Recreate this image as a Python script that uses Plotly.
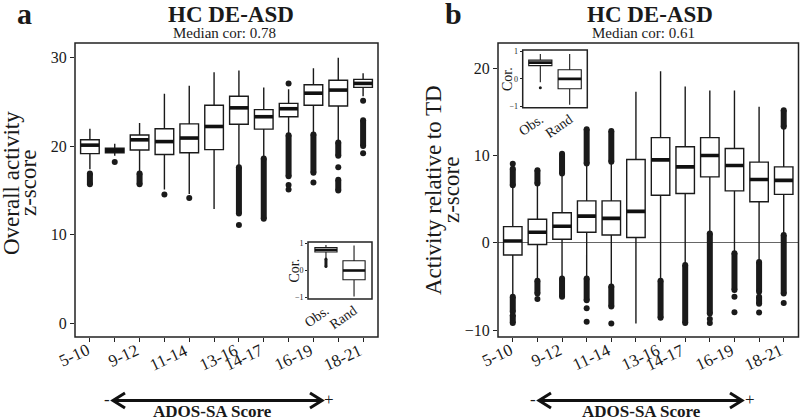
import plotly.graph_objects as go

# ---------------- data ----------------
tick_labels = ["5-10", "", "9-12", "", "11-14", "", "13-16", "14-17", "", "16-19", "", "18-21"]
positions = list(range(len(tick_labels)))

# Panel a: Overall activity z-score
a_lower = [17.4, 18.9, 17.2, 15.1, 14.6, 12.9, 17.7, 18.7, 21.3, 21.5, 20.6, 25.6]
a_q1 = [19.15, 19.25, 19.55, 19.05, 19.25, 19.6, 22.45, 21.9, 23.3, 24.6, 24.5, 26.6]
a_med = [20.1, 19.5, 20.7, 20.5, 20.9, 22.2, 24.3, 23.3, 24.2, 25.95, 26.3, 27.05]
a_q3 = [20.7, 19.75, 21.25, 21.95, 22.5, 24.6, 25.6, 24.1, 24.8, 26.9, 27.4, 27.5]
a_upper = [21.95, 20.25, 22.6, 25.9, 26.8, 28.3, 28.5, 26.6, 26.4, 28.75, 29.95, 28.2]
# dense outlier columns (category, low, high) and single outliers
a_run_cat = [0, 2, 6, 7, 8, 9, 10, 10, 11]
a_run_lo = [15.7, 15.7, 12.4, 11.8, 16.6, 17.0, 18.9, 15.0, 20.0]
a_run_hi = [16.9, 16.9, 17.6, 18.6, 21.2, 21.3, 20.4, 16.2, 22.9]
a_pt_cat = [1, 3, 4, 6, 8, 8, 8, 9, 10, 11, 11]
a_pt_val = [18.2, 14.55, 14.15, 11.1, 15.6, 15.1, 27.05, 15.9, 17.6, 25.1, 19.2]

# Panel b: Activity relative to TD z-score
b_lower = [-6.1, -4.3, -4.05, -4.05, -4.9, -9.25, -4.3, -2.55, 1.05, -1.2, -2.2, 0.9]
b_q1 = [-1.4, -0.2, 0.4, 1.2, 0.9, 0.6, 5.45, 5.65, 7.55, 5.95, 4.7, 5.55]
b_med = [0.2, 1.2, 1.9, 3.05, 2.8, 3.6, 9.5, 8.7, 10.0, 8.85, 7.25, 7.15]
b_q3 = [1.85, 2.7, 3.45, 4.8, 4.8, 9.55, 12.05, 11.0, 12.05, 10.8, 9.25, 8.7]
b_upper = [6.5, 6.7, 7.9, 9.0, 9.2, 17.3, 19.65, 17.9, 17.45, 17.45, 15.6, 13.2]
b_run_cat = [0, 0, 0, 1, 1, 2, 2, 3, 3, 4, 4, 6, 7, 8, 9, 10, 10, 11, 11]
b_run_lo = [6.6, -7.9, -9.2, 6.8, -5.8, 7.95, -6.2, 9.1, -6.6, 9.3, -7.3, -8.6, -9.2, -8.1, -5.4, -5.6, -7.0, 13.3, -5.8]
b_run_hi = [8.5, -6.2, -8.3, 8.3, -4.35, 10.2, -4.1, 13.0, -4.1, 12.8, -5.0, -4.35, -2.55, 1.05, -1.2, -2.2, -6.2, 15.2, 0.9]
b_pt_cat = [0, 1, 3, 3, 4, 8, 8, 9, 9, 10, 11]
b_pt_val = [9.05, -6.45, -7.5, -9.05, -9.25, -8.75, -9.2, -6.2, -7.95, -8.0, -6.9]

# Insets: correlation, observed vs random
inset_labels = ["Obs.", "Rand"]
inset_pos = [0, 1]
ia_lower = [0.46, -0.96]
ia_q1 = [0.68, -0.34]
ia_med = [0.76, 0.0]
ia_q3 = [0.85, 0.36]
ia_upper = [0.94, 0.92]
ia_run_cat = [0]
ia_run_lo = [0.15]
ia_run_hi = [0.42]
ia_pt_cat = []
ia_pt_val = []

ib_lower = [-0.12, -0.94]
ib_q1 = [0.48, -0.36]
ib_med = [0.59, 0.0]
ib_q3 = [0.68, 0.33]
ib_upper = [0.9, 0.9]
ib_run_cat = []
ib_run_lo = []
ib_run_hi = []
ib_pt_cat = [0]
ib_pt_val = [-0.32]

# ---------------- styling ----------------
W, H = 800, 420
SERIF = "Liberation Serif, Times New Roman, serif"
INK = "#1a1a1a"
FRAME = "#222222"


def px(x):
    return x / W


def py(y):
    return 1 - y / H


def panel_traces(xa, ya, pos, lower, q1, med, q3, upper, run_cat, run_lo, run_hi,
                 pt_cat, pt_val, box_w, line_w, med_w, dot):
    tr = []
    tr.append(go.Box(x=pos, q1=q1, median=med, q3=q3, lowerfence=lower, upperfence=upper,
                     width=box_w, fillcolor="white", whiskerwidth=0, boxpoints=False,
                     line=dict(color=INK, width=line_w), xaxis=xa, yaxis=ya,
                     showlegend=False, hoverinfo="skip"))
    rx, ry, ex, ey = [], [], [], []
    for c, lo, hi in zip(run_cat, run_lo, run_hi):
        rx += [pos[c], pos[c], None]
        ry += [lo, hi, None]
        ex += [pos[c], pos[c]]
        ey += [lo, hi]
    if rx:
        tr.append(go.Scatter(x=rx, y=ry, mode="lines", line=dict(color=INK, width=dot),
                             xaxis=xa, yaxis=ya, showlegend=False, hoverinfo="skip"))
    mx = ex + [pos[c] for c in pt_cat]
    my = ey + list(pt_val)
    if mx:
        tr.append(go.Scatter(x=mx, y=my, mode="markers", marker=dict(color=INK, size=dot),
                             xaxis=xa, yaxis=ya, showlegend=False, hoverinfo="skip"))
    sx, sy = [], []
    for p, m in zip(pos, med):
        sx += [p - box_w / 2, p + box_w / 2, None]
        sy += [m, m, None]
    tr.append(go.Scatter(x=sx, y=sy, mode="lines", line=dict(color="#111", width=med_w),
                         xaxis=xa, yaxis=ya, showlegend=False, hoverinfo="skip"))
    return tr


traces = []
traces += panel_traces("x", "y", positions, a_lower, a_q1, a_med, a_q3, a_upper,
                       a_run_cat, a_run_lo, a_run_hi, a_pt_cat, a_pt_val, 0.75, 1.4, 3.6, 6)
traces += panel_traces("x2", "y2", positions, b_lower, b_q1, b_med, b_q3, b_upper,
                       b_run_cat, b_run_lo, b_run_hi, b_pt_cat, b_pt_val, 0.75, 1.4, 3.6, 6)
traces += panel_traces("x3", "y3", inset_pos, ia_lower, ia_q1, ia_med, ia_q3, ia_upper,
                       ia_run_cat, ia_run_lo, ia_run_hi, ia_pt_cat, ia_pt_val, 0.79, 1.1, 2.6, 3)
traces += panel_traces("x4", "y4", inset_pos, ib_lower, ib_q1, ib_med, ib_q3, ib_upper,
                       ib_run_cat, ib_run_lo, ib_run_hi, ib_pt_cat, ib_pt_val, 0.79, 1.1, 2.6, 3)

fig = go.Figure(traces)

axis_common = dict(showline=False, showgrid=False, zeroline=False, ticks="outside", ticklen=4,
                   tickwidth=1.2, tickcolor=FRAME, fixedrange=True, automargin=False)

# subplot boxes in page pixels: (left, top, right, bottom)
BOX_A = (75, 43, 378, 337)
BOX_B = (498, 43, 798.5, 337)
BOX_IA = (308, 242, 372, 299)
BOX_IB = (522.7, 50, 587.3, 107.7)


def xdom(b):
    return [px(b[0]), px(b[2])]


def ydom(b):
    return [py(b[3]), py(b[1])]


fig.update_layout(
    template="none",
    xaxis=dict(domain=xdom(BOX_A), range=[-0.6, 11.6], anchor="y",
               tickvals=positions, showticklabels=False, **axis_common),
    yaxis=dict(domain=ydom(BOX_A), range=[-1.5, 31.6], anchor="x",
               tickvals=[0, 10, 20, 30],
               tickfont=dict(family=SERIF, size=16, color=INK), **axis_common),
    xaxis2=dict(domain=xdom(BOX_B), range=[-0.6, 11.6], anchor="y2",
                tickvals=positions, showticklabels=False, **axis_common),
    yaxis2=dict(domain=ydom(BOX_B), range=[-10.8, 22.9], anchor="x2",
                tickvals=[-10, 0, 10, 20],
                tickfont=dict(family=SERIF, size=16, color=INK),
                **{**axis_common, "zeroline": True, "zerolinecolor": "#666", "zerolinewidth": 1.3}),
    xaxis3=dict(domain=xdom(BOX_IA), range=[-0.64, 1.64], anchor="y3",
                tickvals=inset_pos, ticktext=inset_labels, tickangle=-35,
                tickfont=dict(family=SERIF, size=14, color=INK),
                **{**axis_common, "ticks": ""}),
    yaxis3=dict(domain=ydom(BOX_IA), range=[-1.05, 1.05], anchor="x3",
                tickvals=[-1, 0, 1], tickfont=dict(family=SERIF, size=8, color=INK),
                **{**axis_common, "ticklen": 2, "tickwidth": 0.8}),
    xaxis4=dict(domain=xdom(BOX_IB), range=[-0.6, 1.6], anchor="y4",
                tickvals=inset_pos, ticktext=inset_labels, tickangle=-35,
                tickfont=dict(family=SERIF, size=14, color=INK),
                **{**axis_common, "ticks": ""}),
    yaxis4=dict(domain=ydom(BOX_IB), range=[-1.05, 1.05], anchor="x4",
                tickvals=[-1, 0, 1], tickfont=dict(family=SERIF, size=8, color=INK),
                **{**axis_common, "ticklen": 2, "tickwidth": 0.8}),
    width=W, height=H, autosize=False,
    margin=dict(l=0, r=0, t=0, b=0, pad=0),
    paper_bgcolor="white", plot_bgcolor="white",
    showlegend=False,
)

shapes = []
# panel frames (paper coordinates, drawn on top)
for b in (BOX_A, BOX_B, BOX_IA, BOX_IB):
    shapes.append(dict(type="rect", xref="paper", yref="paper",
                       x0=px(b[0]), x1=px(b[2]), y0=py(b[3]), y1=py(b[1]),
                       line=dict(color=FRAME, width=1.5),
                       fillcolor="rgba(0,0,0,0)", layer="above"))
# dashed zero lines in insets
for xr, yr in (("x3 domain", "y3"), ("x4 domain", "y4")):
    shapes.append(dict(type="line", xref=xr, yref=yr, x0=0, x1=1, y0=0, y1=0,
                       line=dict(color="#888", width=1, dash="dash"), layer="below"))


def double_arrow(x0, x1, y):
    s = []
    s.append(dict(type="line", xref="paper", yref="paper", x0=px(x0), x1=px(x1),
                  y0=py(y), y1=py(y), line=dict(color="#111", width=3)))
    for tip, d in ((x0, 1), (x1, -1)):
        path = "M {} {} L {} {} L {} {}".format(px(tip + d * 12), py(y - 7.5), px(tip), py(y),
                                                px(tip + d * 12), py(y + 7.5))
        s.append(dict(type="path", xref="paper", yref="paper", path=path,
                      line=dict(color="#111", width=3)))
    return s


shapes += double_arrow(113, 322, 400.5)
shapes += double_arrow(539, 742, 400.5)
fig.update_layout(shapes=shapes)


def ann(text, x, y, size, bold=False, angle=0):
    t = "<b>{}</b>".format(text) if bold else text
    return dict(text=t, x=px(x), y=py(y), xref="paper", yref="paper", showarrow=False,
                xanchor="center", yanchor="middle", textangle=angle,
                font=dict(family=SERIF, size=size, color=INK))


annotations = [
    ann("a", 24.5, 14, 30, bold=True),
    ann("b", 453, 14, 30, bold=True),
    ann("HC DE-ASD", 231, 15, 23, bold=True),
    ann("Median cor: 0.78", 224.5, 33, 15),
    ann("HC DE-ASD", 650, 15, 23, bold=True),
    ann("Median cor: 0.61", 643, 33, 15),
    ann("Overall activity", 11, 183, 23, angle=-90),
    ann("z-score", 28, 183, 23, angle=-90),
    ann("Activity relative to TD", 434, 190, 23, angle=-90),
    ann("z-score", 452, 190, 23, angle=-90),
    ann("Cor.", 294, 270.5, 14, angle=-90),
    ann("Cor.", 507, 79, 14, angle=-90),
    ann("-", 107, 399, 17),
    ann("+", 329, 399, 17),
    ann("-", 533, 399, 17),
    ann("+", 750, 399, 17),
    ann("ADOS-SA Score", 212.5, 411, 17, bold=True),
    ann("ADOS-SA Score", 641, 411, 17, bold=True),
]

# angled category labels, right end at each tick (as in the reference)
for xr in ("x", "x2"):
    for p, lab in zip(positions, tick_labels):
        if lab:
            annotations.append(dict(text=lab, x=p, xref=xr, y=py(338), yref="paper",
                                    xanchor="right", yanchor="top", textangle=-25, xshift=5,
                                    showarrow=False,
                                    font=dict(family=SERIF, size=17, color=INK)))

fig.update_layout(annotations=annotations)

fig.write_html("out.html", config={"displayModeBar": False},
               post_script="document.body.style.margin='0px';")
